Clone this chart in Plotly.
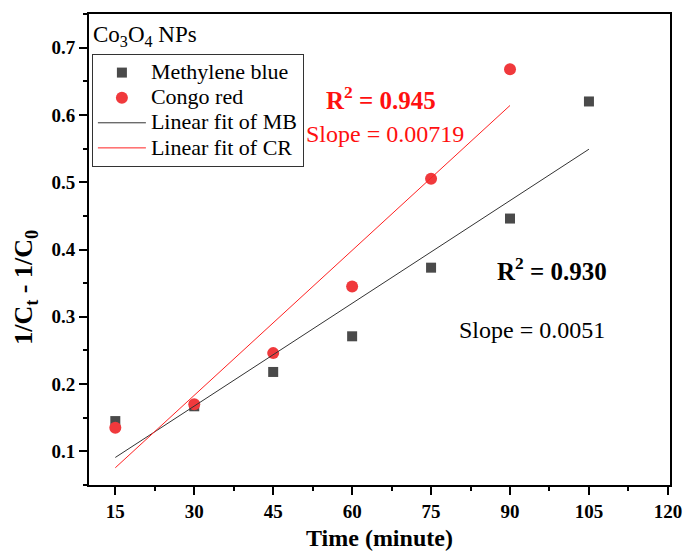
import numpy as np
import plotly.graph_objects as go

time_mb = [15, 30, 45, 60, 75, 90, 105]
mb_vals = [0.145, 0.167, 0.218, 0.271, 0.373, 0.446, 0.620]
time_cr = [15, 30, 45, 60, 75, 90]
cr_vals = [0.135, 0.170, 0.246, 0.345, 0.505, 0.668]
x_ticks = [15, 30, 45, 60, 75, 90, 105, 120]
y_ticks = [0.1, 0.2, 0.3, 0.4, 0.5, 0.6, 0.7]
names = ["Methylene blue", "Congo red", "Linear fit of MB", "Linear fit of CR"]

FONT = "Times New Roman, Liberation Serif, DejaVu Serif, serif"


def big(s):
    return '<span style="font-size:22px">' + s + "</span>"


mb_fit = np.polyfit(time_mb, mb_vals, 1)
cr_fit = np.polyfit(time_cr, cr_vals, 1)
mb_x = np.array([time_mb[0], time_mb[-1]])
cr_x = np.array([time_cr[0], time_cr[-1]])

fig = go.Figure()
fig.add_trace(go.Scatter(x=time_mb, y=mb_vals, mode="markers", name=big(names[0]),
                         marker=dict(symbol="square", size=10, color="#4a4a4a")))
fig.add_trace(go.Scatter(x=time_cr, y=cr_vals, mode="markers", name=big(names[1]),
                         marker=dict(symbol="circle", size=12, color="#f0393c")))
fig.add_trace(go.Scatter(x=mb_x, y=np.polyval(mb_fit, mb_x), mode="lines", name=big(names[2]),
                         line=dict(color="#333333", width=1)))
fig.add_trace(go.Scatter(x=cr_x, y=np.polyval(cr_fit, cr_x), mode="lines", name=big(names[3]),
                         line=dict(color="#ff2020", width=1)))

axis_common = dict(showline=True, linecolor="black", linewidth=2, mirror=True,
                   ticks="outside", ticklen=8, tickwidth=1.5, tickcolor="black",
                   showgrid=False, zeroline=False,
                   tickfont=dict(family=FONT, size=19, color="black", weight="bold"))

fig.update_xaxes(range=[10, 120.4], tickvals=x_ticks,
                 minor=dict(ticks="outside", ticklen=4, tickwidth=1.5, dtick=7.5, tick0=0, tickcolor="black"),
                 **axis_common)
fig.update_yaxes(range=[0.05, 0.75], tickvals=y_ticks, tickformat=".1f",
                 minor=dict(ticks="outside", ticklen=4, tickwidth=1.5, dtick=0.05, tick0=0, tickcolor="black"),
                 **axis_common)

fig.update_layout(
    width=694, height=552,
    margin=dict(l=89, r=13, t=12, b=67),
    plot_bgcolor="white", paper_bgcolor="white",
    font=dict(family=FONT, color="black"),
    showlegend=True,
    legend=dict(x=0.005, y=0.915, xanchor="left", yanchor="top",
                bordercolor="#333333", borderwidth=1, bgcolor="rgba(255,255,255,0)",
                itemwidth=48,
                font=dict(family=FONT, size=17, color="black"), tracegroupgap=0),
    annotations=[
        dict(text="Co<sub>3</sub>O<sub>4</sub> NPs", xref="paper", yref="paper", x=0.003, y=0.988,
             xanchor="left", yanchor="top", showarrow=False, font=dict(family=FONT, size=23, color="black")),
        dict(text="<b>R<sup>2</sup> = 0.945</b>", xref="paper", yref="paper", x=0.503, y=0.821,
             xanchor="center", yanchor="middle", showarrow=False, font=dict(family=FONT, size=25, color="#ff1010")),
        dict(text="Slope = 0.00719", xref="paper", yref="paper", x=0.510, y=0.746,
             xanchor="center", yanchor="middle", showarrow=False, font=dict(family=FONT, size=24, color="#ff1010")),
        dict(text="<b>R<sup>2</sup> = 0.930</b>", xref="paper", yref="paper", x=0.797, y=0.459,
             xanchor="center", yanchor="middle", showarrow=False, font=dict(family=FONT, size=25, color="black")),
        dict(text="Slope = 0.0051", xref="paper", yref="paper", x=0.762, y=0.330,
             xanchor="center", yanchor="middle", showarrow=False, font=dict(family=FONT, size=24, color="black")),
        dict(text="<b>Time (minute)</b>", xref="paper", yref="paper", x=0.5, y=-0.113,
             xanchor="center", yanchor="middle", showarrow=False, font=dict(family=FONT, size=24, color="black")),
        dict(text="<b>1/C<sub>t</sub> - 1/C<sub>0</sub></b>", xref="paper", yref="paper", x=-0.11, y=0.419,
             xanchor="center", yanchor="middle", textangle=-90, showarrow=False,
             font=dict(family=FONT, size=26, color="black")),
    ],
)

fig.write_html("out.html")
